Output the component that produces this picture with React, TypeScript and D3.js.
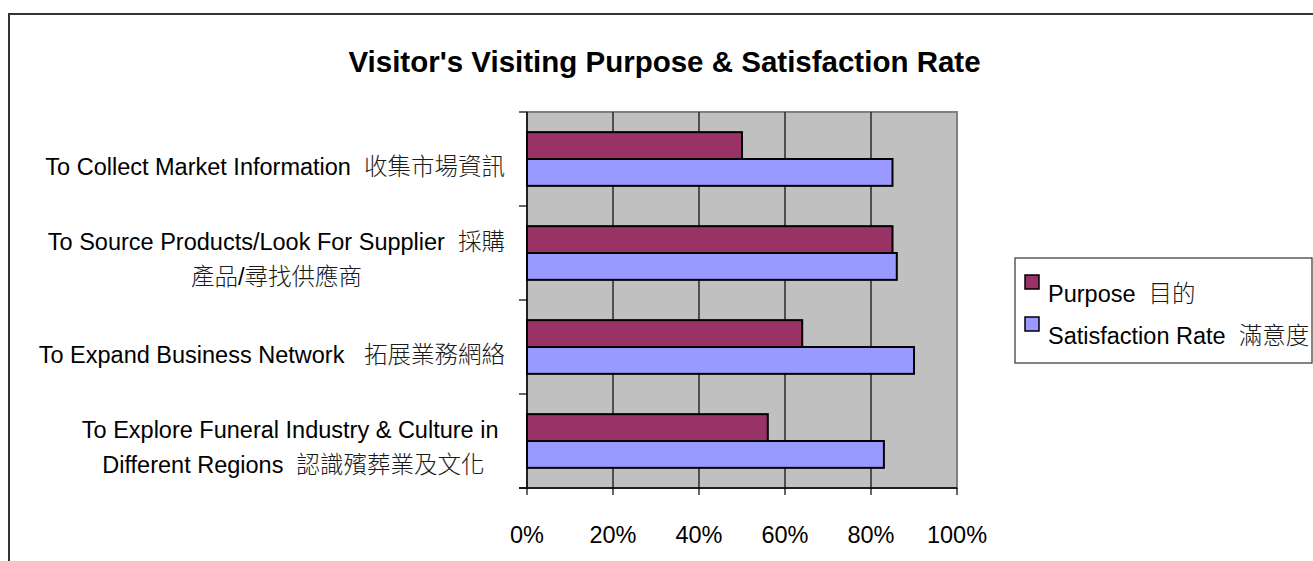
import React, { useEffect, useRef } from "react";
import * as d3 from "d3";

const title = "Visitor's Visiting Purpose & Satisfaction Rate";
const categoryLines: string[][] = [
  ["To Collect Market Information  收集市場資訊"],
  ["To Source Products/Look For Supplier  採購", "產品/尋找供應商"],
  ["To Expand Business Network   拓展業務網絡"],
  ["To Explore Funeral Industry & Culture in ", "Different Regions  認識殯葬業及文化"],
];
const purpose = [50, 85, 64, 56];
const satisfaction = [85, 86, 90, 83];
const seriesNames = ["Purpose  目的", "Satisfaction Rate  滿意度"];
const seriesColors = ["#993366", "#9999FF"];
const xTicks = [0, 20, 40, 60, 80, 100];

const W = 1313;
const H = 561;
const LATIN = "'Liberation Sans', Arial, sans-serif";
const CJK = "'Noto Sans CJK TC', 'Noto Sans CJK SC', sans-serif";
const FS = 23.5;

const cjkRe = /([\u3000-\u9fff\uff00-\uffef]+)/;

function addRuns(text: d3.Selection<SVGTextElement, unknown, null, undefined>, s: string) {
  s.split(cjkRe).filter((p) => p.length > 0).forEach((part) => {
    const isCjk = cjkRe.test(part);
    text
      .append("tspan")
      .attr("font-family", isCjk ? CJK : LATIN)
      .attr("font-weight", isCjk ? 300 : 400)
      .attr("fill", isCjk ? "#1a1a1a" : "#000")
      .text(part);
  });
}

export default function App() {
  const ref = useRef<SVGSVGElement | null>(null);

  useEffect(() => {
    document.body.style.margin = "0";
    document.body.style.overflow = "hidden";
    const svg = d3.select(ref.current!);
    svg.selectAll("*").remove();

    const x = d3.scaleLinear().domain([0, 100]).range([527, 957]);
    const y = d3
      .scaleBand<number>()
      .domain(d3.range(categoryLines.length))
      .range([112, 488])
      .paddingInner(0)
      .paddingOuter(0);
    const ySub = d3
      .scaleBand<number>()
      .domain([0, 1])
      .range([0, y.bandwidth()])
      .paddingInner(0)
      .paddingOuter(0.75);

    // outer chart border (right/bottom extend past the view)
    svg
      .append("rect")
      .attr("x", 9)
      .attr("y", 14)
      .attr("width", W + 50)
      .attr("height", H + 50)
      .attr("fill", "#fff")
      .attr("stroke", "#333")
      .attr("stroke-width", 2);

    // title
    svg
      .append("text")
      .attr("x", 664.5)
      .attr("y", 72)
      .attr("text-anchor", "middle")
      .attr("font-family", LATIN)
      .attr("font-weight", "bold")
      .attr("font-size", 29.5)
      .text(title);

    // plot area
    const [x0, x1] = x.range();
    const [y0, y1] = y.range();
    svg
      .append("rect")
      .attr("x", x0)
      .attr("y", y0)
      .attr("width", x1 - x0)
      .attr("height", y1 - y0)
      .attr("fill", "#C0C0C0")
      .attr("stroke", "#808080")
      .attr("stroke-width", 2);

    // gridlines
    svg
      .append("g")
      .selectAll("line")
      .data(xTicks.slice(1, -1))
      .join("line")
      .attr("x1", (d) => x(d))
      .attr("x2", (d) => x(d))
      .attr("y1", y0)
      .attr("y2", y1)
      .attr("stroke", "#2a2a2a")
      .attr("stroke-width", 1.5);

    // bars
    const series = [purpose, satisfaction];
    series.forEach((vals, si) => {
      svg
        .append("g")
        .selectAll("rect")
        .data(vals)
        .join("rect")
        .attr("x", x(0))
        .attr("y", (_d, i) => (y(i) as number) + (ySub(si) as number))
        .attr("width", (d) => x(d) - x(0))
        .attr("height", ySub.bandwidth())
        .attr("fill", seriesColors[si])
        .attr("stroke", "#000")
        .attr("stroke-width", 2);
    });

    // axes lines
    svg
      .append("line")
      .attr("x1", x0)
      .attr("x2", x0)
      .attr("y1", y0)
      .attr("y2", y1)
      .attr("stroke", "#000")
      .attr("stroke-width", 1.5);
    svg
      .append("line")
      .attr("x1", x0 - 8)
      .attr("x2", x1)
      .attr("y1", y1)
      .attr("y2", y1)
      .attr("stroke", "#000")
      .attr("stroke-width", 1.5);

    // y ticks at category boundaries
    const bounds = d3.range(categoryLines.length + 1).map((i) => y0 + i * y.step());
    svg
      .append("g")
      .selectAll("line")
      .data(bounds)
      .join("line")
      .attr("x1", x0 - 8)
      .attr("x2", x0)
      .attr("y1", (d) => d)
      .attr("y2", (d) => d)
      .attr("stroke", "#000")
      .attr("stroke-width", 1.2);

    // x ticks
    svg
      .append("g")
      .selectAll("line")
      .data(xTicks)
      .join("line")
      .attr("x1", (d) => x(d))
      .attr("x2", (d) => x(d))
      .attr("y1", y1)
      .attr("y2", y1 + 7)
      .attr("stroke", "#000")
      .attr("stroke-width", 1.2);

    svg
      .append("g")
      .selectAll("text")
      .data(xTicks)
      .join("text")
      .attr("x", (d) => x(d))
      .attr("y", 543)
      .attr("text-anchor", "middle")
      .attr("font-family", LATIN)
      .attr("font-size", FS)
      .text((d) => `${d}%`);

    // category labels
    const labelRight = 505;
    categoryLines.forEach((lines, ci) => {
      const center = (y(ci) as number) + y.bandwidth() / 2;
      const g = svg.append("g");
      const texts = lines.map((ln) => {
        const t = g
          .append("text")
          .attr("font-size", FS)
          .attr("font-family", LATIN)
          .style("white-space", "pre");
        addRuns(t, ln);
        return t;
      });
      const widths = texts.map((t) => (t.node() as SVGTextElement).getComputedTextLength());
      const maxW = d3.max(widths) ?? 0;
      const cx = labelRight - maxW / 2;
      const firstBase = lines.length === 1 ? center + 16 : center - 3;
      texts.forEach((t, li) => {
        t.attr("x", cx - widths[li] / 2).attr("y", firstBase + li * 35);
      });
    });

    // legend
    svg
      .append("rect")
      .attr("x", 1015)
      .attr("y", 258)
      .attr("width", 297)
      .attr("height", 105)
      .attr("fill", "#fff")
      .attr("stroke", "#333")
      .attr("stroke-width", 1.2);
    seriesNames.forEach((name, si) => {
      const yy = 275 + si * 42;
      svg
        .append("rect")
        .attr("x", 1025)
        .attr("y", yy)
        .attr("width", 14)
        .attr("height", 14)
        .attr("fill", seriesColors[si])
        .attr("stroke", "#000")
        .attr("stroke-width", 1.5);
      const t = svg
        .append("text")
        .attr("x", 1048)
        .attr("y", yy + 27)
        .attr("font-size", FS)
        .attr("font-family", LATIN)
        .style("white-space", "pre");
      addRuns(t, name);
    });
  }, []);

  return (
    <div style={{ position: "absolute", left: 0, top: 0 }}>
      <svg ref={ref} width={W} height={H} style={{ display: "block" }} />
    </div>
  );
}
